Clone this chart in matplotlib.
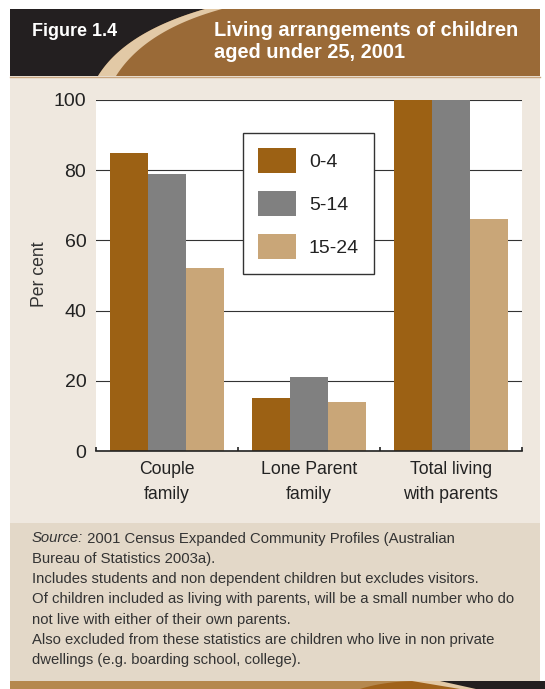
import matplotlib.pyplot as plt
from matplotlib.patches import Rectangle, Polygon
import numpy as np

groups = ["Couple\nfamily", "Lone Parent\nfamily", "Total living\nwith parents"]
ages = ["0-4", "5-14", "15-24"]
age_0_4 = [85, 15, 100]
age_5_14 = [79, 21, 100]
age_15_24 = [52, 14, 66]
colors = ["#9c6114", "#808080", "#c9a678"]

title = "Living arrangements of children\naged under 25, 2001"
source_rest = "2001 Census Expanded Community Profiles (Australian"
notes = [
    "Bureau of Statistics 2003a).",
    "Includes students and non dependent children but excludes visitors.",
    "Of children included as living with parents, will be a small number who do",
    "not live with either of their own parents.",
    "Also excluded from these statistics are children who live in non private",
    "dwellings (e.g. boarding school, college).",
]

plt.rcParams['font.family'] = ['Liberation Sans', 'DejaVu Sans']

W, H = 545, 689
fig = plt.figure(figsize=(W / 100, H / 100), dpi=100)
fig.patch.set_facecolor("white")

# background layer in pixel coordinates
bg = fig.add_axes([0, 0, 1, 1])
bg.set_xlim(0, W)
bg.set_ylim(H, 0)
bg.axis("off")

bg.add_patch(Rectangle((10, 76), 530, 447, color="#efe8df", lw=0))
bg.add_patch(Rectangle((10, 523), 530, 158, color="#e3d8c8", lw=0))

# header band with curved swoosh
bg.add_patch(Rectangle((10, 9), 530, 67, color="#9a6a37", lw=0))
t = np.linspace(0, 1, 40)


def bez(p0, c, p2):
    x = (1 - t) ** 2 * p0[0] + 2 * (1 - t) * t * c[0] + t ** 2 * p2[0]
    y = (1 - t) ** 2 * p0[1] + 2 * (1 - t) * t * c[1] + t ** 2 * p2[1]
    return np.column_stack([x, y])


outer = bez((98, 76), (125, 32), (205, 9))
inner = bez((116, 76), (145, 30), (222, 9))
bg.add_patch(Polygon(np.vstack([[[10, 76]], outer, [[10, 9]]]), color="#231f20", lw=0))
bg.add_patch(Polygon(np.vstack([outer, inner[::-1]]), color="#e2c9a6", lw=0))
bg.plot([10, 540], [76.5, 76.5], color="#c9a680", lw=1)

# bottom strip
bg.add_patch(Rectangle((10, 681), 535, 8, color="#b5884e", lw=0))
hill = bez((360, 689), (385, 681), (420, 681))
bg.add_patch(Polygon(np.vstack([hill, [[545, 681], [545, 689]]]), color="#a0621a", lw=0))
bg.add_patch(Polygon([[412, 681], [445, 681], [482, 689], [460, 689]], color="#e2c9a6", lw=0))
bg.add_patch(Polygon([[440, 681], [545, 681], [545, 689], [476, 689]], color="#231f20", lw=0))

fig.text(32 / W, 1 - 31 / H, "Figure 1.4", color="white", fontsize=13,
         fontweight="bold", va="center", ha="left")
fig.text(214 / W, 1 - 41.5 / H, title, color="white", fontsize=14.4,
         fontweight="bold", va="center", ha="left", linespacing=1.25)

# bar chart
ax = fig.add_axes([96 / W, 1 - 451 / H, 426 / W, 351 / H])
ax.set_facecolor("white")
x = np.arange(len(groups))
w = 38 / 142
for i, (vals, lab) in enumerate(zip([age_0_4, age_5_14, age_15_24], ages)):
    ax.bar(x + (i - 1) * w, vals, w, color=colors[i], label=lab, zorder=2)

ax.set_xlim(-0.5, 2.5)
ax.set_ylim(0, 100)
ax.set_yticks([0, 20, 40, 60, 80, 100])
ax.yaxis.grid(True, color="#333333", lw=0.8, zorder=1)
ax.set_axisbelow(True)
for s in ["top", "right", "left"]:
    ax.spines[s].set_visible(False)
ax.spines["bottom"].set_color("#222222")
ax.spines["bottom"].set_linewidth(1.2)
ax.spines["bottom"].set_zorder(3)

ax.set_xticks(x)
ax.set_xticklabels(groups, linespacing=1.55)
ax.set_xticks([-0.5, 0.5, 1.5, 2.5], minor=True)
ax.tick_params(axis="x", which="major", length=0, pad=7.5, labelsize=12.7, labelcolor="#222222")
ax.tick_params(axis="x", which="minor", direction="in", length=3, width=1.2, color="#222222")
ax.tick_params(axis="y", length=0, pad=7, labelsize=14, labelcolor="#222222")

fig.text(40 / W, 1 - 274 / H, "Per cent", rotation=90, fontsize=12.7,
         color="#333333", va="center", ha="center")

leg = ax.legend(loc="upper left", bbox_to_anchor=(243 / W, 1 - 133 / H),
                bbox_transform=fig.transFigure, fontsize=14, frameon=True,
                fancybox=False, framealpha=1, edgecolor="#333333",
                handlelength=1.96, handleheight=1.6, labelspacing=0.93,
                borderpad=0.78, handletextpad=0.65, borderaxespad=0)
leg.get_frame().set_linewidth(1)
for txt in leg.get_texts():
    txt.set_color("#222222")

# footer notes
src = fig.text(32 / W, 1 - 538.5 / H, "Source:", fontsize=10.7, style="italic",
               color="#333333", va="center", ha="left")
bg.annotate(" " + source_rest, xy=(1, 0), xycoords=src, fontsize=10.7,
            color="#333333", va="bottom", ha="left")
for k, line in enumerate(notes):
    fig.text(32 / W, 1 - (558.8 + 20.3 * k) / H, line, fontsize=10.7,
             color="#333333", va="center", ha="left")

fig.savefig("out.png", dpi=100)
